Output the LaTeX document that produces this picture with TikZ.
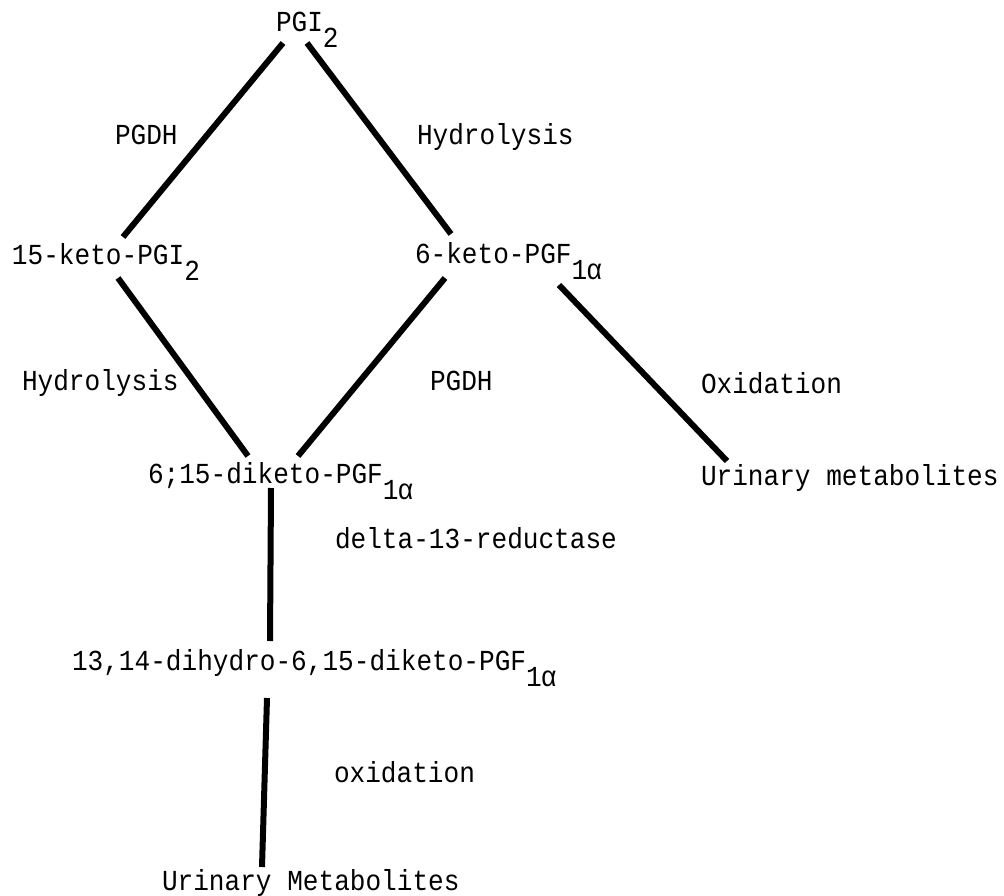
\documentclass[tikz,border=0pt]{standalone}
\usepackage{fontspec}
\newfontfamily\typew[FakeStretch=0.9]{Liberation Mono}
\newcommand{\lowsub}[1]{\raisebox{-16pt}{#1}}
\begin{document}
\begin{tikzpicture}[x=1pt,y=-1pt,
  lbl/.style={anchor=base west,inner sep=0pt,outer sep=0pt,font=\typew\fontsize{29}{33}\selectfont},
  conn/.style={line width=6pt,black}]
\useasboundingbox[fill=white] (0,0) rectangle (1004,896);
% compounds
\node[lbl] (pgi) at (276,32) {PGI\lowsub{2}};
\node[lbl] (kpgi) at (12,265) {15-keto-PGI\lowsub{2}};
\node[lbl] (kpgf) at (415,263) {6-keto-PGF\lowsub{1\kern-1ptα}};
\node[lbl] (dk) at (148,483) {6;15-diketo-PGF\lowsub{1\kern-1ptα}};
\node[lbl] (um1) at (701,485) {Urinary metabolites};
\node[lbl] (dh) at (72,670) {13,14-dihydro-6,15-diketo-PGF\lowsub{1\kern-1ptα}};
\node[lbl] (um2) at (162,890) {Urinary Metabolites};
% enzyme / reaction labels
\node[lbl] (e1) at (115,145) {PGDH};
\node[lbl] (e2) at (417,145) {Hydrolysis};
\node[lbl] (e3) at (22,390) {Hydrolysis};
\node[lbl] (e4) at (430,390) {PGDH};
\node[lbl] (e5) at (701,393) {Oxidation};
\node[lbl] (e6) at (335,548) {delta-13-reductase};
\node[lbl] (e7) at (334,782) {oxidation};
% connector end points
\coordinate (pgiL) at (283,43);
\coordinate (pgiR) at (307,43);
\coordinate (kpgiT) at (123,237);
\coordinate (kpgiB) at (118,278);
\coordinate (kpgfT) at (451,234);
\coordinate (kpgfBL) at (445,278);
\coordinate (kpgfBR) at (559,285);
\coordinate (dkTL) at (248,456);
\coordinate (dkTR) at (298,456);
\coordinate (dkB) at (271,488);
\coordinate (umT) at (727,461);
\coordinate (dhT) at (270,641);
\coordinate (dhB) at (267,698);
\coordinate (um2T) at (262,867);
% connectors
\draw[conn] (pgiL) -- (kpgiT);
\draw[conn] (pgiR) -- (kpgfT);
\draw[conn] (kpgiB) -- (dkTL);
\draw[conn] (kpgfBL) -- (dkTR);
\draw[conn] (kpgfBR) -- (umT);
\draw[conn] (dkB) -- (dhT);
\draw[conn] (dhB) -- (um2T);
\end{tikzpicture}
\end{document}
